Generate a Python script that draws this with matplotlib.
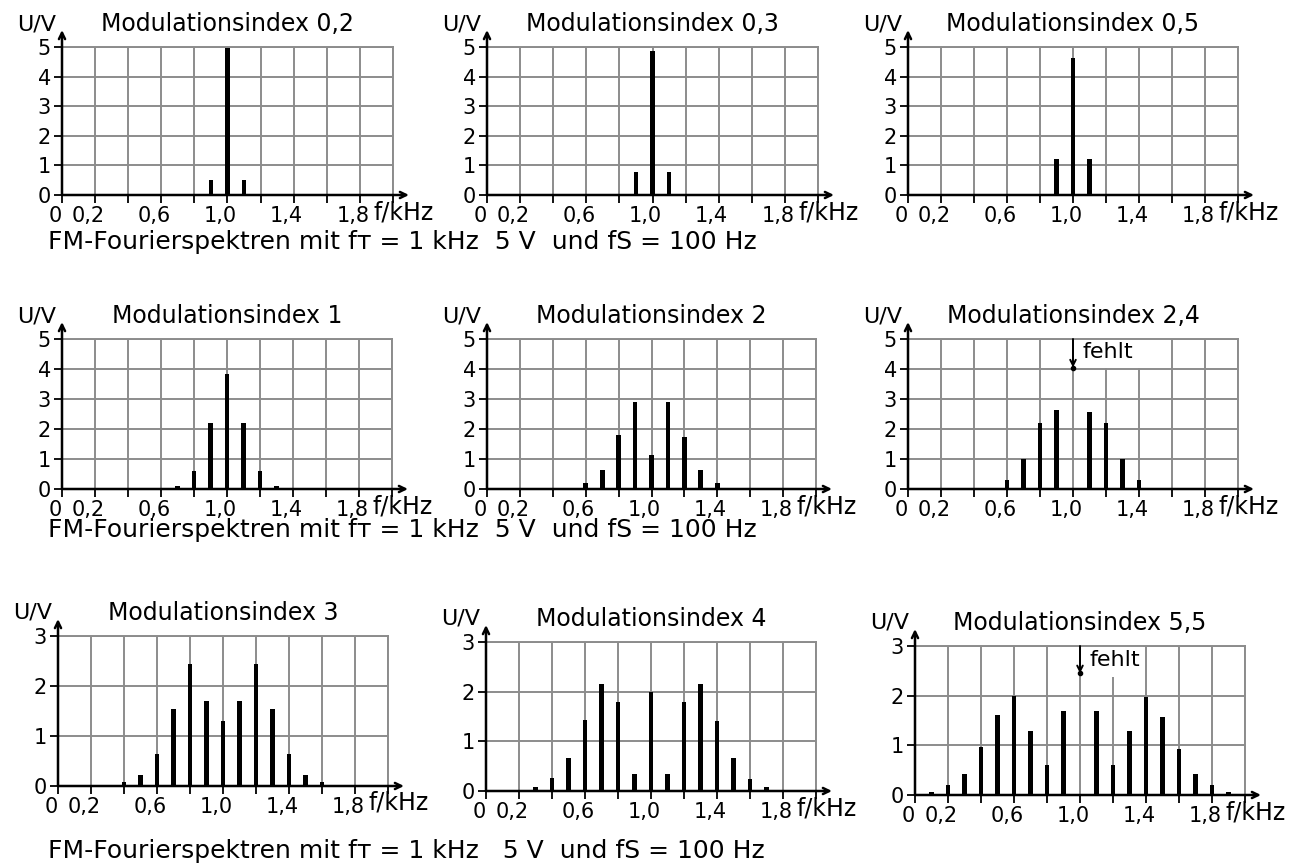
import numpy as np
import matplotlib
matplotlib.use('Agg')
import matplotlib.pyplot as plt
import matplotlib.transforms as mtrans
from matplotlib.patches import Rectangle

W, H = 1309, 867

# frequencies of the spectral lines in kHz
freqs = [0.1, 0.2, 0.3, 0.4, 0.5, 0.6, 0.7, 0.8, 0.9, 1.0,
         1.1, 1.2, 1.3, 1.4, 1.5, 1.6, 1.7, 1.8, 1.9]

# amplitudes in V
amp_02 = [0, 0, 0, 0, 0, 0, 0, 0, 0.5, 4.95, 0.5, 0, 0, 0, 0, 0, 0, 0, 0]
amp_03 = [0, 0, 0, 0, 0, 0, 0, 0, 0.78, 4.87, 0.78, 0, 0, 0, 0, 0, 0, 0, 0]
amp_05 = [0, 0, 0, 0, 0, 0, 0, 0.05, 1.2, 4.62, 1.2, 0.05, 0, 0, 0, 0, 0, 0, 0]
amp_1 = [0, 0, 0, 0, 0, 0, 0.1, 0.6, 2.2, 3.85, 2.2, 0.6, 0.1, 0, 0, 0, 0, 0, 0]
amp_2 = [0, 0, 0, 0, 0.04, 0.2, 0.65, 1.8, 2.9, 1.15, 2.9, 1.75, 0.65, 0.2, 0.04, 0, 0, 0, 0]
amp_24 = [0, 0, 0, 0, 0.05, 0.3, 1.0, 2.2, 2.62, 0, 2.58, 2.2, 1.0, 0.3, 0.05, 0, 0, 0, 0]
amp_3 = [0, 0, 0.03, 0.08, 0.22, 0.65, 1.55, 2.45, 1.7, 1.3, 1.7, 2.45, 1.55, 0.65, 0.22, 0.08, 0.03, 0, 0]
amp_4 = [0, 0.03, 0.08, 0.27, 0.66, 1.42, 2.15, 1.8, 0.35, 2.0, 0.35, 1.8, 2.15, 1.4, 0.66, 0.25, 0.08, 0.03, 0]
amp_55 = [0.07, 0.2, 0.43, 0.97, 1.62, 2.0, 1.28, 0.6, 1.7, 0, 1.7, 0.6, 1.28, 1.97, 1.58, 0.93, 0.43, 0.2, 0.07]

titles = ['Modulationsindex 0,2', 'Modulationsindex 0,3', 'Modulationsindex 0,5',
          'Modulationsindex 1', 'Modulationsindex 2', 'Modulationsindex 2,4',
          'Modulationsindex 3', 'Modulationsindex 4', 'Modulationsindex 5,5']
amps = [amp_02, amp_03, amp_05, amp_1, amp_2, amp_24, amp_3, amp_4, amp_55]
ymaxs = [5, 5, 5, 5, 5, 5, 3, 3, 3]

# "fehlt" notes: panel index -> (arrow tip y, text y, white box x0, x1, y0)
fehlt = {5: (4.05, 4.55, 1.01, 1.585, 4.04),
         8: (2.45, 2.72, 1.01, 1.38, 2.37)}

xticks = [0, 0.2, 0.4, 0.6, 0.8, 1.0, 1.2, 1.4, 1.6, 1.8, 2.0]
xticklabels = ['0', '0,2', '', '0,6', '', '1,0', '', '1,4', '', '1,8', '']

captions = ['FM-Fourierspektren mit f\u1d1b = 1 kHz  5 V  und fS = 100 Hz',
            'FM-Fourierspektren mit f\u1d1b = 1 kHz  5 V  und fS = 100 Hz',
            'FM-Fourierspektren mit f\u1d1b = 1 kHz   5 V  und fS = 100 Hz']

# panel frames in pixels: left, right, bottom (y=0), top (y=ymax)
frames = [(62, 393, 195, 47), (487, 818, 195, 47), (908, 1238, 195, 47),
          (62, 392, 489, 339), (487, 816, 489, 339), (908, 1238, 489, 339),
          (58, 388, 786, 636), (486, 816, 791, 642), (915, 1245, 795, 646)]
caption_y = [242, 530, 851]

GRID = '#8c8c8c'

fig = plt.figure(figsize=(W / 100, H / 100), dpi=100)
off = mtrans.ScaledTranslation(-7 / 100, 0, fig.dpi_scale_trans)

for i in range(9):
    l, r, b, t = frames[i]
    wpx, hpx = r - l, b - t
    ax = fig.add_axes([l / W, 1 - b / H, wpx / W, hpx / H])
    ymax = ymaxs[i]
    ax.set_xlim(0, 2.0)
    ax.set_ylim(0, ymax)

    ax.bar(freqs, amps[i], width=0.029, color='black', zorder=3, linewidth=0)

    ax.set_xticks(xticks)
    ax.set_xticklabels(xticklabels)
    ax.set_yticks(range(ymax + 1))
    ax.grid(True, color=GRID, lw=1.4, zorder=0)
    ax.set_axisbelow(True)
    for s in ['top', 'right']:
        ax.spines[s].set_color(GRID)
        ax.spines[s].set_linewidth(1.4)
    for s in ['left', 'bottom']:
        ax.spines[s].set_visible(False)
    ax.tick_params(axis='both', direction='out', length=6, width=1.3,
                   color='black', labelsize=15, pad=2)
    for lab in ax.get_xticklabels():
        lab.set_transform(lab.get_transform() + off)

    # axes with arrow heads
    arrow = dict(arrowstyle='->,head_length=0.45,head_width=0.22', lw=1.8,
                 color='black', shrinkA=0, shrinkB=0)
    ax.annotate('', xy=(0, 1 + 17 / hpx), xytext=(0, 0), xycoords='axes fraction',
                arrowprops=arrow, annotation_clip=False, zorder=5)
    ax.annotate('', xy=(1 + 16 / wpx, 0), xytext=(0, 0), xycoords='axes fraction',
                arrowprops=arrow, annotation_clip=False, zorder=5)

    ax.text(0.94, -17 / hpx, 'f/kHz', transform=ax.transAxes, ha='left',
            va='center', fontsize=17)
    ax.text(-6 / wpx, 1 + 23 / hpx, 'U/V', transform=ax.transAxes, ha='right',
            va='center', fontsize=16)
    ax.text(0.5, 1 + 23 / hpx, titles[i], transform=ax.transAxes, ha='center',
            va='center', fontsize=17)

    if i in fehlt:
        y_tip, y_txt, bx0, bx1, by0 = fehlt[i]
        ax.add_patch(Rectangle((bx0, by0), bx1 - bx0, ymax - by0, facecolor='white',
                               edgecolor='none', zorder=1))
        ax.annotate('', xy=(1.0, y_tip), xytext=(1.0, ymax),
                    arrowprops=dict(arrowstyle='->,head_length=0.4,head_width=0.2',
                                    lw=1.4, color='black', shrinkA=0, shrinkB=0),
                    zorder=5, annotation_clip=False)
        ax.plot([1.0], [y_tip], 'o', color='black', ms=3, zorder=6)
        ax.text(1.06, y_txt, 'fehlt', ha='left', va='center', fontsize=16, zorder=4)

for k in range(3):
    fig.text(48 / W, 1 - caption_y[k] / H, captions[k], ha='left', va='center',
             fontsize=18)

fig.savefig('out.png', dpi=100, facecolor='white')
